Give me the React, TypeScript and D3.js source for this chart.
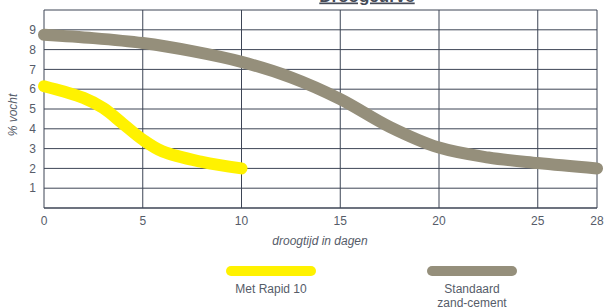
import { useEffect, useRef } from "react";
import * as d3 from "d3";

// values
const xTicks = [0, 5, 10, 15, 20, 25, 28];
const yTicks = [1, 2, 3, 4, 5, 6, 7, 8, 9];

const rapidDays = [0, 1, 2, 3, 4, 5, 6, 8, 10];
const rapidVocht = [6.15, 5.88, 5.56, 5.05, 4.25, 3.45, 2.86, 2.33, 2.0];

const standaardDays = [0, 2.5, 5, 7.5, 10, 12.5, 15, 17.5, 20, 22.5, 25, 28];
const standaardVocht = [8.75, 8.58, 8.33, 7.92, 7.38, 6.6, 5.5, 4.1, 3.05, 2.55, 2.27, 2.0];

const seriesNames = ["Met Rapid 10", "Standaard"];
const seriesColors = ["#fff200", "#958f7b"];

export default function App() {
  const svgRef = useRef<SVGSVGElement>(null);

  useEffect(() => {
    const width = 605;
    const height = 307;
    const margin = { top: 10, right: 8, bottom: 99, left: 44 };
    const plotW = width - margin.left - margin.right;
    const plotH = height - margin.top - margin.bottom;
    const ink = "#3d4555";
    const textColor = "#565c69";
    const font = "'Liberation Sans', Arial, sans-serif";

    const svg = d3.select(svgRef.current);
    svg.selectAll("*").remove();
    svg.attr("width", width).attr("height", height);

    const x = d3.scaleLinear().domain([0, 28]).range([0, plotW]);
    const y = d3.scaleLinear().domain([0, 10]).range([plotH, 0]);

    // title (partly cut off at the top, as in the reference)
    svg
      .append("text")
      .attr("x", 367)
      .attr("y", 1.5)
      .attr("text-anchor", "middle")
      .attr("font-family", font)
      .attr("font-weight", "bold")
      .attr("font-size", 17)
      .attr("fill", "#454b58")
      .attr("text-decoration", "underline")
      .text("Droogcurve");

    const g = svg
      .append("g")
      .attr("transform", `translate(${margin.left},${margin.top})`);

    // grid
    g.selectAll(".hgrid")
      .data(yTicks.concat([10]))
      .join("line")
      .attr("x1", 0)
      .attr("x2", plotW)
      .attr("y1", (d) => y(d))
      .attr("y2", (d) => y(d))
      .attr("stroke", ink)
      .attr("stroke-width", 1);

    g.selectAll(".vgrid")
      .data(xTicks)
      .join("line")
      .attr("x1", (d) => x(d))
      .attr("x2", (d) => x(d))
      .attr("y1", 0)
      .attr("y2", plotH)
      .attr("stroke", ink)
      .attr("stroke-width", 1);

    g.append("line")
      .attr("x1", 0)
      .attr("x2", plotW)
      .attr("y1", plotH)
      .attr("y2", plotH)
      .attr("stroke", ink)
      .attr("stroke-width", 1.5);

    // tick labels
    g.selectAll(".ylab")
      .data(yTicks)
      .join("text")
      .attr("x", -8)
      .attr("y", (d) => y(d))
      .attr("dy", "0.35em")
      .attr("text-anchor", "end")
      .attr("font-family", font)
      .attr("font-size", 12)
      .attr("fill", textColor)
      .text((d) => d);

    g.selectAll(".xlab")
      .data(xTicks)
      .join("text")
      .attr("x", (d) => x(d))
      .attr("y", plotH + 17)
      .attr("text-anchor", "middle")
      .attr("font-family", font)
      .attr("font-size", 12)
      .attr("fill", textColor)
      .text((d) => d);

    // axis titles
    g.append("text")
      .attr("x", 276)
      .attr("y", plotH + 37)
      .attr("text-anchor", "middle")
      .attr("font-family", font)
      .attr("font-style", "italic")
      .attr("font-size", 12)
      .attr("fill", textColor)
      .text("droogtijd in dagen");

    svg
      .append("text")
      .attr("transform", `translate(17,${margin.top + 105}) rotate(-90)`)
      .attr("text-anchor", "middle")
      .attr("font-family", font)
      .attr("font-style", "italic")
      .attr("font-size", 12)
      .attr("fill", textColor)
      .text("% vocht");

    const line = d3
      .line<[number, number]>()
      .x((d) => x(d[0]))
      .y((d) => y(d[1]))
      .curve(d3.curveCatmullRom.alpha(0.5));

    const standaard = standaardDays.map((d, i) => [d, standaardVocht[i]] as [number, number]);
    const rapid = rapidDays.map((d, i) => [d, rapidVocht[i]] as [number, number]);

    g.append("path")
      .attr("d", line(standaard))
      .attr("fill", "none")
      .attr("stroke", seriesColors[1])
      .attr("stroke-width", 12)
      .attr("stroke-linecap", "round")
      .attr("stroke-linejoin", "round");

    g.append("path")
      .attr("d", line(rapid))
      .attr("fill", "none")
      .attr("stroke", seriesColors[0])
      .attr("stroke-width", 12)
      .attr("stroke-linecap", "round")
      .attr("stroke-linejoin", "round");

    // legend
    const legendX = [271, 472];
    const legend = svg
      .selectAll(".legend")
      .data(seriesNames)
      .join("g")
      .attr("transform", (_, i) => `translate(${legendX[i]},271)`);

    legend
      .append("line")
      .attr("x1", -40)
      .attr("x2", 40)
      .attr("stroke", (_, i) => seriesColors[i])
      .attr("stroke-width", 10)
      .attr("stroke-linecap", "round");

    legend
      .append("text")
      .attr("y", 22)
      .attr("text-anchor", "middle")
      .attr("font-family", font)
      .attr("font-size", 12)
      .attr("fill", textColor)
      .text((d) => d);

    legend
      .filter((_, i) => i === 1)
      .append("text")
      .attr("y", 36)
      .attr("text-anchor", "middle")
      .attr("font-family", font)
      .attr("font-size", 12)
      .attr("fill", textColor)
      .text("zand-cement");
  }, []);

  return (
    <svg
      ref={svgRef}
      style={{ position: "absolute", left: 0, top: 0 }}
    ></svg>
  );
}
